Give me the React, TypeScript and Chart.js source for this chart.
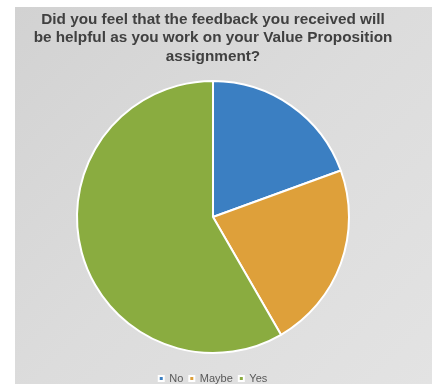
import React, { useEffect, useRef } from "react";
import { Chart, registerables } from "chart.js";

Chart.register(...registerables);

const categories = ["No", "Maybe", "Yes"];
const responses = [7, 8, 21];
const sliceColors = ["#3b7fc2", "#dea03a", "#8aac40"];
const titleLines = [
  "Did you feel that the feedback you received will",
  "be helpful as you work on your Value Proposition",
  "assignment?",
];

export default function App() {
  const ref = useRef<HTMLCanvasElement | null>(null);

  useEffect(() => {
    document.body.style.margin = "0";
    const ctx = ref.current;
    if (!ctx) return;
    const chart = new Chart(ctx, {
      type: "pie",
      data: {
        labels: categories,
        datasets: [
          {
            data: responses,
            backgroundColor: sliceColors,
            borderColor: "#ffffff",
            borderWidth: 2,
          },
        ],
      },
      options: {
        animation: false,
        responsive: false,
        maintainAspectRatio: false,
        layout: { padding: { left: 0, right: 6, top: 0, bottom: 0 } },
        plugins: {
          title: {
            display: true,
            text: titleLines,
            color: "#404040",
            font: { family: "'Liberation Sans', Arial, sans-serif", size: 15.3, weight: "bold", lineHeight: 1.22 },
            padding: { top: 10, bottom: 14 },
          },
          legend: {
            position: "bottom",
            title: {
              display: true,
              text: " ",
              font: { size: 1, lineHeight: 1 },
              padding: { top: 12, bottom: 0 },
            },
            labels: {
              color: "#595959",
              font: { family: "'Liberation Sans', Arial, sans-serif", size: 11 },
              boxWidth: 5,
              boxHeight: 5,
              padding: 6,
            },
          },
          tooltip: { enabled: false },
        },
      },
    });
    return () => chart.destroy();
  }, []);

  return (
    <div style={{ position: "absolute", left: 0, top: 0, width: 432, height: 384, background: "#ffffff", overflow: "hidden" }}>
      <div
        style={{
          position: "absolute",
          left: 15,
          top: 7,
          width: 417,
          height: 377,
          background: "linear-gradient(135deg, #d2d2d2 0%, #dcdcdc 50%, #e3e3e3 100%)",
        }}
      />
      <canvas ref={ref} width={432} height={394} style={{ position: "absolute", left: 0, top: 0, width: 432, height: 394 }} />
    </div>
  );
}
